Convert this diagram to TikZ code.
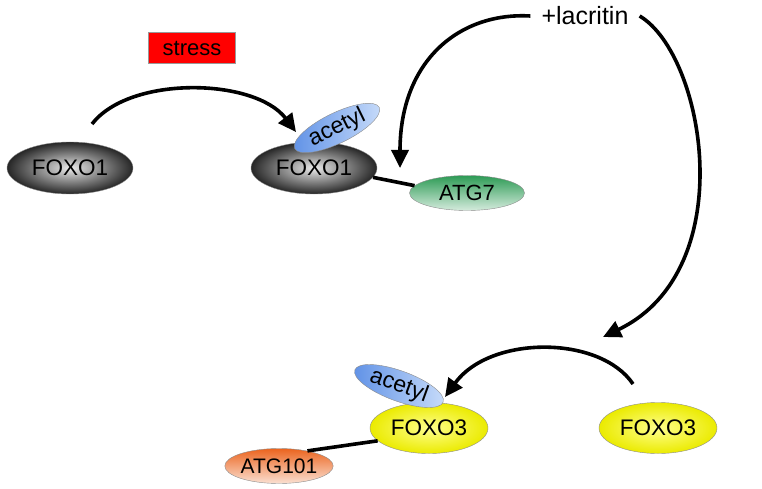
\documentclass[tikz,border=0pt]{standalone}
\usepackage{fontspec}
\setmainfont{Liberation Sans}
\usetikzlibrary{shapes.geometric, arrows.meta}
\usetikzlibrary{positioning}
\tikzstyle{protein}=[draw=black!45, ellipse, inner sep=0pt, text centered,
					font=\fontsize{22.5}{26}\selectfont]
\definecolor{atggreen}{RGB}{45,155,85}
\definecolor{atgorange}{RGB}{235,100,30}
\definecolor{acetylblue}{RGB}{95,145,230}
\definecolor{acetyllight}{RGB}{200,220,250}

\begin{document}
\begin{tikzpicture}[x=1pt, y=-1pt,
foxoone/.style={protein, minimum width=126pt, minimum height=52pt, inner color=black!8, outer color=black!85},
foxothree/.style={protein, minimum width=118pt, minimum height=51pt, inner color=yellow!45!white, outer color=yellow!92!black},
acetylnode/.style={protein, minimum width=94pt, minimum height=27pt, left color=acetylblue, right color=acetyllight, font=\fontsize{23}{26}\selectfont},
pathway/.style={-{Triangle[length=18pt,width=17pt]}, line width=3.6pt},
bond/.style={line width=3.6pt},
]
\useasboundingbox (0,0) rectangle (762,489);

%Nodes
\node[rectangle, draw=black!40, fill=red, minimum width=87pt, minimum height=31pt,
      font=\fontsize{22}{26}\selectfont] (stress_node) at (192,48) {stress};
\node[foxoone]   (foxoa_node)   at (70,168)  {FOXO1};
\node[foxoone]   (foxob_node)   at (314,168) {FOXO1};
\node[acetylnode, rotate=26] (acetyla_node) at (337,128) {acetyl};
\node[protein, minimum width=115pt, minimum height=35pt, top color=atggreen, bottom color=atggreen!20!white,
      font=\fontsize{22}{26}\selectfont] (atgseven_node) at (467,193) {ATG7};
\node[font=\fontsize{25}{29}\selectfont, inner sep=11pt] (lacritin_node) at (585,16) {+lacritin};
\node[foxothree] (foxoc_node)   at (429,428) {FOXO3};
\node[foxothree] (foxod_node)   at (658,428) {FOXO3};
\node[acetylnode, rotate=-20] (acetylb_node) at (399,386) {acetyl};
\node[protein, minimum width=106pt, minimum height=35pt, top color=atgorange, bottom color=atgorange!20!white,
      font=\fontsize{21}{25}\selectfont] (atgten_node) at (279,466) {ATG101};

\coordinate (stress_start) at (92,124);
\coordinate (stress_end)   at (296,132);
\coordinate (lacritin_a)   at (400,168);
\coordinate (lacritin_b)   at (603,337);
\coordinate (foxo_start)   at (633,384);
\coordinate (foxo_end)     at (445,397);

%Lines
\draw[pathway] (stress_start) .. controls (130,75) and (255,78) .. (stress_end);
\draw[pathway] (lacritin_node.west) .. controls (460,12) and (400,60) .. (lacritin_a);
\draw[pathway] (lacritin_node.east) .. controls (705,55) and (742,270) .. (lacritin_b);
\draw[pathway] (foxo_start) .. controls (600,335) and (490,335) .. (foxo_end);
\draw[bond] (foxob_node.-9) -- (atgseven_node.172);
\draw[bond] (foxoc_node.194) -- (atgten_node.28);

\end{tikzpicture}
\end{document}
